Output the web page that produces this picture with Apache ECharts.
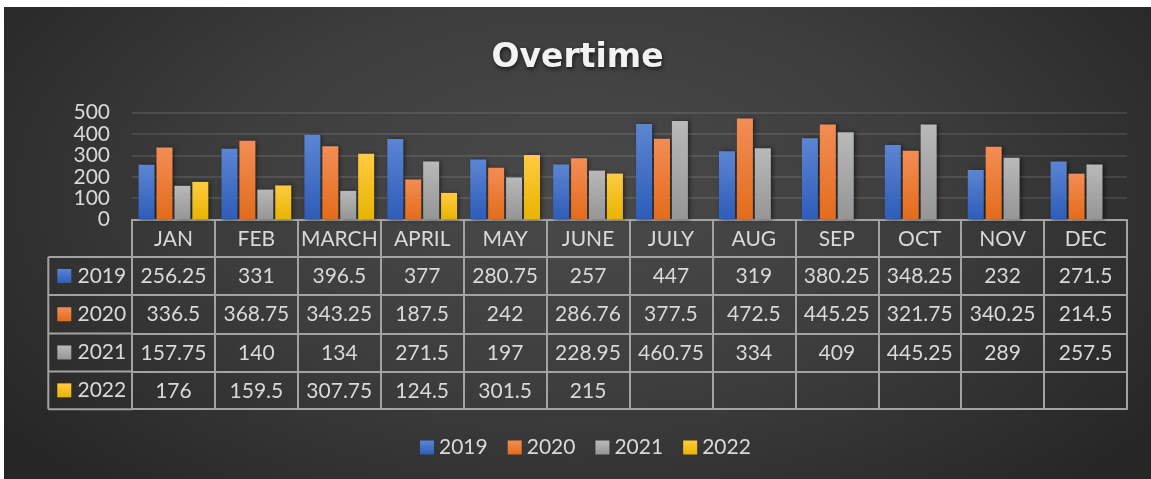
<!DOCTYPE html>
<html>
<head>
<meta charset="utf-8">
<title>Overtime</title>
<script src="https://cdn.jsdelivr.net/npm/echarts@6/dist/echarts.min.js"></script>
<style>
  html, body { margin: 0; padding: 0; background: #fff; }
  #chart {
    position: absolute; left: 4px; top: 7px; width: 1147px; height: 472px;
    background: radial-gradient(ellipse 62% 85% at 50% 40%, #4a4a4a 0%, #3d3d3d 50%, #262626 100%);
  }
</style>
</head>
<body>
<div id="chart"></div>
<script>
// data
const months = ['JAN', 'FEB', 'MARCH', 'APRIL', 'MAY', 'JUNE', 'JULY', 'AUG', 'SEP', 'OCT', 'NOV', 'DEC'];
const years = ['2019', '2020', '2021', '2022'];
const v2019 = [256.25, 331, 396.5, 377, 280.75, 257, 447, 319, 380.25, 348.25, 232, 271.5];
const v2020 = [336.5, 368.75, 343.25, 187.5, 242, 286.76, 377.5, 472.5, 445.25, 321.75, 340.25, 214.5];
const v2021 = [157.75, 140, 134, 271.5, 197, 228.95, 460.75, 334, 409, 445.25, 289, 257.5];
const v2022 = [176, 159.5, 307.75, 124.5, 301.5, 215, null, null, null, null, null, null];
const yTicks = [0, 100, 200, 300, 400, 500];

const values = [v2019, v2020, v2021, v2022];

// bar colours (top -> bottom gradient, like the excel style)
const colors = [
    ['#5c85d3', '#2e5cb8'],
    ['#f38d55', '#e36c1b'],
    ['#b9b9b9', '#959595'],
    ['#ffcb42', '#e8b400'],
];
const grad = (c) => new echarts.graphic.LinearGradient(0, 0, 0, 1, [
    { offset: 0, color: c[0] },
    { offset: 1, color: c[1] },
]);

const W = 1147, H = 472;
const GRID = { left: 128, right: 24, top: 105.7, bottom: 259.5 };
const GRID_BOTTOM_Y = H - GRID.bottom; // y of the zero line
const HEAD_H = 37.5;
const ROW_H = [38, 38.5, 38, 37.7]; // 2019..2022
const LEFT_X = 44.3; // left edge of the table legend column

const LINE = { color: '#a3a3a3', width: 2 };
const TEXT = '#d9d9d9';
const FONT = 'Lato';

// row offsets below the zero line
const rowTop = [HEAD_H];
for (let i = 1; i <= ROW_H.length; i++) rowTop.push(rowTop[i - 1] + ROW_H[i - 1]);

const chart = echarts.init(document.getElementById('chart'), null, { renderer: 'canvas' });

// header axis (month names)
const xAxes = [{
    type: 'category',
    data: months,
    position: 'bottom',
    offset: 0,
    axisLine: { lineStyle: LINE },
    axisTick: { show: true, length: HEAD_H, interval: 0, lineStyle: LINE },
    axisLabel: { color: TEXT, fontSize: 21, fontFamily: FONT, margin: 9, interval: 0 },
}];
// one axis per table row, labels = the row's values
values.forEach((vals, i) => {
    xAxes.push({
        type: 'category',
        data: months,
        position: 'bottom',
        offset: rowTop[i],
        axisLine: { lineStyle: LINE },
        axisTick: { show: true, length: ROW_H[i], interval: 0, lineStyle: LINE },
        axisLabel: {
            color: TEXT, fontSize: 21, fontFamily: FONT, margin: 9, interval: 0,
            formatter: (v, idx) => (vals[idx] == null ? '' : String(vals[idx])),
        },
    });
});
// closing line of the table
xAxes.push({
    type: 'category',
    data: months,
    position: 'bottom',
    offset: rowTop[values.length],
    axisLine: { lineStyle: LINE },
    axisTick: { show: false },
    axisLabel: { show: false },
});

// left column of the table: swatch + year
const graphics = [];
years.forEach((y, i) => {
    const cy = GRID_BOTTOM_Y + rowTop[i] + ROW_H[i] / 2;
    graphics.push({
        type: 'rect',
        shape: { x: 53.3, y: cy - 7, width: 14, height: 14 },
        style: { fill: grad(colors[i]) },
    });
    graphics.push({
        type: 'text',
        x: 73.5, y: cy,
        style: { text: y, fill: TEXT, fontSize: 21, fontFamily: FONT, verticalAlign: 'middle' },
    });
});
for (let i = 0; i <= values.length; i++) {
    const y = GRID_BOTTOM_Y + rowTop[i];
    graphics.push({
        type: 'line',
        shape: { x1: LEFT_X, y1: y, x2: GRID.left, y2: y },
        style: { stroke: LINE.color, lineWidth: LINE.width },
    });
}
graphics.push({
    type: 'line',
    shape: { x1: LEFT_X, y1: GRID_BOTTOM_Y + rowTop[0], x2: LEFT_X, y2: GRID_BOTTOM_Y + rowTop[values.length] },
    style: { stroke: LINE.color, lineWidth: LINE.width },
});

const option = {
    animation: false,
    backgroundColor: 'transparent',
    title: {
        text: 'Overtime',
        left: 'center',
        top: 30,
        textStyle: {
            color: '#f2f2f2',
            fontSize: 33,
            fontWeight: 'bold',
            fontFamily: 'DejaVu Sans',
            textShadowColor: 'rgba(0,0,0,0.6)',
            textShadowBlur: 4,
            textShadowOffsetX: 1,
            textShadowOffsetY: 2,
        },
    },
    legend: {
        data: years,
        left: 411,
        top: 425,
        icon: 'rect',
        itemWidth: 14,
        itemHeight: 14,
        itemGap: 20,
        textStyle: { color: TEXT, fontSize: 21, fontFamily: FONT },
    },
    grid: { ...GRID, containLabel: false },
    xAxis: xAxes,
    yAxis: {
        type: 'value',
        min: yTicks[0],
        max: yTicks[yTicks.length - 1],
        interval: 100,
        axisLine: { show: false },
        axisTick: { show: false },
        axisLabel: { color: TEXT, fontSize: 21, fontFamily: FONT, margin: 22 },
        splitLine: { lineStyle: { color: 'rgba(255,255,255,0.1)', width: 2 } },
    },
    series: years.map((y, i) => ({
        name: y,
        type: 'bar',
        xAxisIndex: 0,
        data: values[i],
        barWidth: 16,
        barGap: '12%',
        itemStyle: {
            color: grad(colors[i]),
            shadowColor: 'rgba(0,0,0,0.45)',
            shadowBlur: 4,
            shadowOffsetX: 2,
        },
    })),
    graphic: graphics,
};

chart.setOption(option);
</script>
</body>
</html>
